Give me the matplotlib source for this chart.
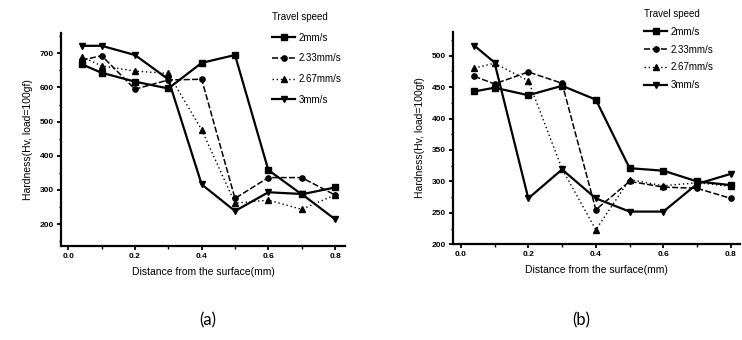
import matplotlib
matplotlib.use("Agg")
import matplotlib.pyplot as plt
from matplotlib.ticker import MultipleLocator, FormatStrFormatter

plt.rcParams['font.family'] = ['Liberation Sans', 'DejaVu Sans']

depth = [0.04, 0.1, 0.2, 0.3, 0.4, 0.5, 0.6, 0.7, 0.8]
speeds = ["2mm/s", "2.33mm/s", "2.67mm/s", "3mm/s"]

# panel (a)
a_2 = [668, 643, 617, 597, 672, 695, 358, 287, 307]
a_233 = [680, 693, 595, 622, 624, 275, 336, 336, 285]
a_267 = [690, 663, 648, 641, 476, 261, 270, 243, 285]
a_3 = [722, 722, 695, 624, 316, 238, 293, 288, 214]

# panel (b)
b_2 = [443, 449, 437, 452, 430, 321, 317, 300, 294]
b_233 = [467, 455, 474, 456, 255, 300, 291, 289, 273]
b_267 = [480, 488, 460, 320, 223, 303, 293, 298, 292]
b_3 = [516, 489, 273, 319, 273, 252, 252, 296, 312]

styles = [
    dict(ls='-', marker='s', lw=1.6, ms=4),
    dict(ls=(0, (4, 1.5)), marker='o', lw=1.1, ms=3.8),
    dict(ls=(0, (1, 2)), marker='^', lw=1.0, ms=3.8),
    dict(ls='-', marker='v', lw=1.6, ms=4.5),
]

W, H = 742, 340
fig = plt.figure(figsize=(W / 100, H / 100), dpi=100)

def frac(x0, y0, x1, y1):
    return [x0 / W, 1 - y1 / H, (x1 - x0) / W, (y1 - y0) / H]

axA = fig.add_axes(frac(61, 33, 345, 246))
axB = fig.add_axes(frac(453, 31.7, 740, 244.3))

panels = [
    (axA, [a_2, a_233, a_267, a_3], (135.6, 759.5), (-0.022, 0.83), 100, 50,
     (272 / W, 1 - 12 / H), 1.1, "(a)", 208),
    (axB, [b_2, b_233, b_267, b_3], (200, 538), (-0.023, 0.827), 50, 25,
     (644 / W, 1 - 9 / H), 0.8, "(b)", 581),
]

for ax, series, ylim, xlim, ymaj, ymin, legpos, lsp, cap, capx in panels:
    for vals, lab, st in zip(series, speeds, styles):
        ax.plot(depth, vals, color='black', label=lab, **st)
    ax.set_xlim(*xlim)
    ax.set_ylim(*ylim)
    ax.xaxis.set_major_locator(MultipleLocator(0.2))
    ax.xaxis.set_minor_locator(MultipleLocator(0.1))
    ax.yaxis.set_major_locator(MultipleLocator(ymaj))
    ax.yaxis.set_minor_locator(MultipleLocator(ymin))
    ax.xaxis.set_major_formatter(FormatStrFormatter('%.1f'))
    for s in ['top', 'right']:
        ax.spines[s].set_visible(False)
    for s in ['left', 'bottom']:
        ax.spines[s].set_linewidth(1.6)
    ax.tick_params(which='major', direction='out', length=3, width=1.3,
                   labelsize=6, pad=2)
    ax.tick_params(which='minor', direction='out', length=1.8, width=1.0)
    for t in ax.get_xticklabels() + ax.get_yticklabels():
        t.set_fontweight('bold')
    ax.set_xlabel("Distance from the surface(mm)", fontsize=7.5, labelpad=5)
    ax.set_ylabel("Hardness(Hv, load=100gf)", fontsize=7.5, labelpad=5)
    ax.patch.set_alpha(0)
    leg = ax.legend(loc='upper left', bbox_to_anchor=legpos,
                    bbox_transform=fig.transFigure, frameon=False,
                    title="Travel speed", prop=dict(size=7),
                    title_fontproperties=dict(size=7),
                    handlelength=2.4, handletextpad=0.3, labelspacing=lsp,
                    borderpad=0, borderaxespad=0, alignment='left')
    fig.text(capx / W, 1 - 320 / H, cap, fontsize=12, family=['Lato', 'DejaVu Sans'],
             ha='center', va='center')

fig.savefig("out.png", dpi=100)
